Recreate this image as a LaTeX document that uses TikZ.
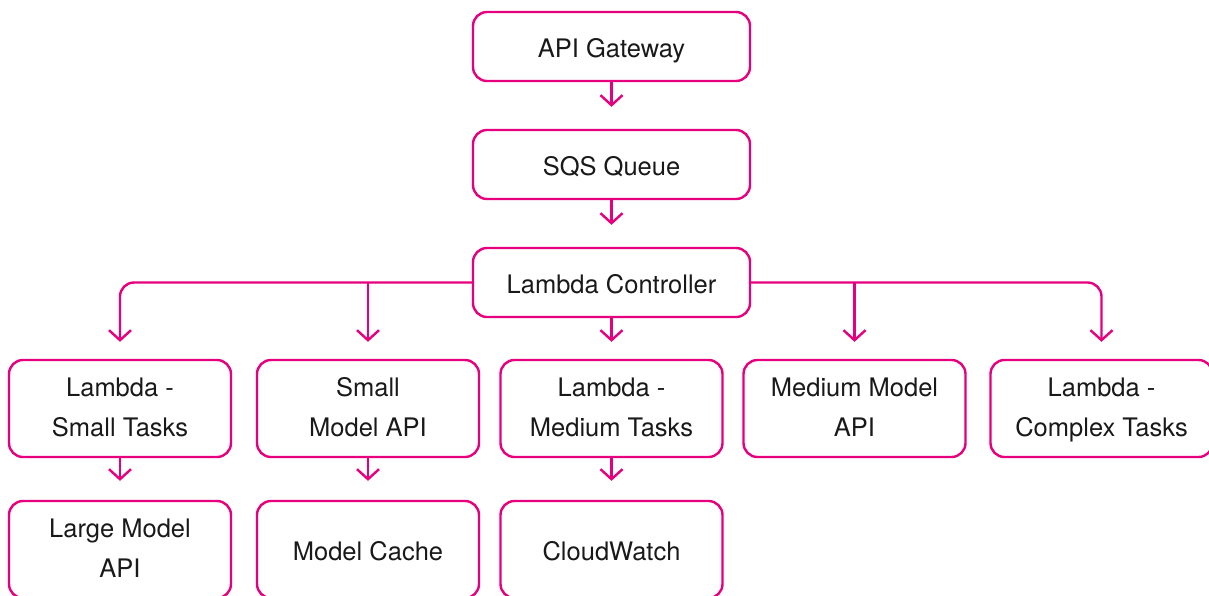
\documentclass[tikz,border=0pt]{standalone}
\usepackage{fontspec}
\setmainfont{TeX Gyre Heros}
\usetikzlibrary{arrows.meta}
\definecolor{mag}{RGB}{230,0,126}
\definecolor{txt}{RGB}{25,25,25}
\newcommand{\onestrut}{\rule[-12pt]{0pt}{45.4pt}}
\begin{document}
\begin{tikzpicture}[x=1pt,y=-1pt,
  box/.style={draw=mag, line width=2.4pt, rounded corners=14pt, align=center,
    text=txt, font=\fontsize{25.5}{40}\selectfont, inner sep=0pt},
  topbox/.style={box, minimum width=277pt, minimum height=69pt},
  cell/.style={box, minimum width=222pt, minimum height=97pt},
  arr/.style={draw=mag, line width=2.4pt, -{Straight Barb[length=10pt,width=22pt,line width=2.4pt]}},
]
\useasboundingbox (0,0) rectangle (1209,595);
\node[topbox] (api) at (611.5,46.5) {\onestrut API Gateway};
\node[topbox] (sqs) at (611.5,164.5) {\onestrut SQS Queue};
\node[topbox] (ctl) at (611.5,282.5) {\onestrut Lambda Controller};
\node[cell] (ls) at (120,408.5) {\strut Lambda -\\\strut Small Tasks};
\node[cell] (sm) at (368,408.5) {\strut Small\\\strut Model API};
\node[cell] (lm) at (611.5,408.5) {\strut Lambda -\\\strut Medium Tasks};
\node[cell] (mm) at (854.5,408.5) {\strut Medium Model\\\strut API};
\node[cell] (lc) at (1101.5,408.5) {\strut Lambda -\\\strut Complex Tasks};
\node[cell] (lg) at (120,549.5) {\strut Large Model\\\strut API};
\node[cell] (mc) at (368,549.5) {\onestrut Model Cache};
\node[cell] (cw) at (611.5,549.5) {\onestrut CloudWatch};
\draw[arr, shorten >=22pt] (api.south) -- (sqs.north);
\draw[arr, shorten >=22pt] (sqs.south) -- (ctl.north);
\draw[arr, shorten >=17pt] (ctl.south) -- (lm.north);
\draw[arr, rounded corners=14pt, shorten >=17pt] (ctl.west) -| (ls.north);
\draw[arr, shorten >=17pt] (ctl.west -| sm.north) -- (sm.north);
\draw[arr, rounded corners=14pt, shorten >=17pt] (ctl.east) -| (lc.north);
\draw[arr, shorten >=17pt] (ctl.east -| mm.north) -- (mm.north);
\draw[arr, shorten >=19pt] (ls.south) -- (lg.north);
\draw[arr, shorten >=19pt] (sm.south) -- (mc.north);
\draw[arr, shorten >=19pt] (lm.south) -- (cw.north);
\end{tikzpicture}
\end{document}
